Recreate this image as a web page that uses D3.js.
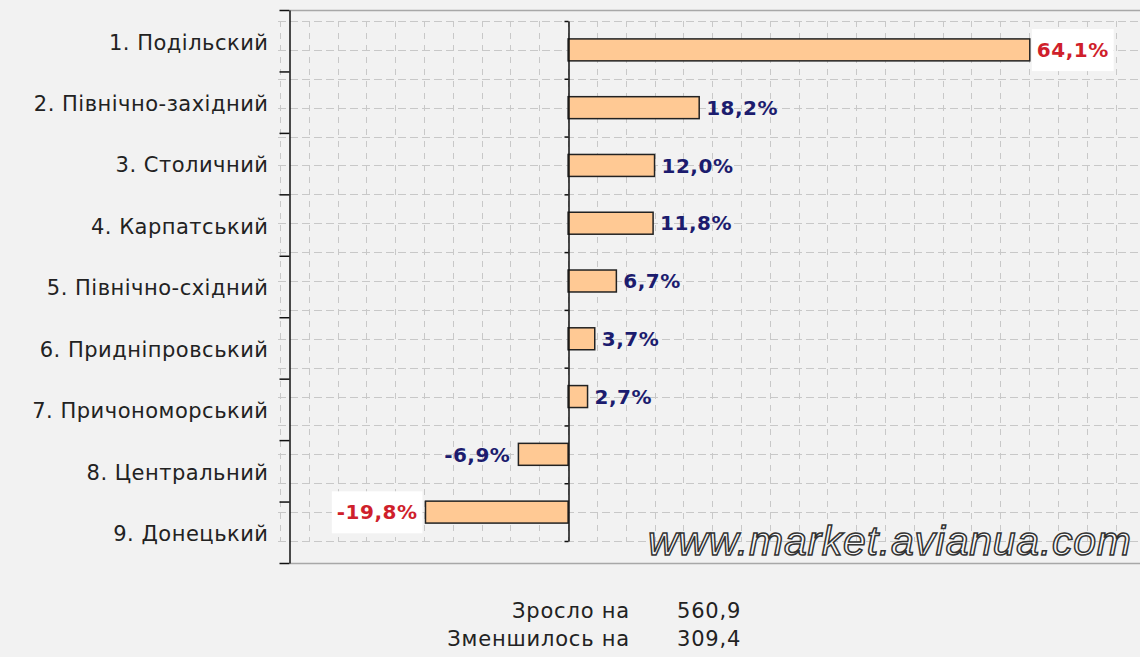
<!DOCTYPE html>
<html>
<head>
<meta charset="utf-8">
<script src="https://cdn.jsdelivr.net/npm/d3@7"></script>
<style>
  body { margin: 0; background: #f2f2f2; }
  svg { display: block; }
</style>
</head>
<body>
<script>
var width = 1140;
var height = 657;

var categories = ["1. Подільский", "2. Північно-західний", "3. Столичний", "4. Карпатський",
  "5. Північно-східний", "6. Придніпровський", "7. Причономорський", "8. Центральний", "9. Донецький"];
var values = [64.1, 18.2, 12.0, 11.8, 6.7, 3.7, 2.7, -6.9, -19.8];
var gridSteps = d3.range(-40, 80, 4);
var summaryLabels = ["Зросло на", "Зменшилось на"];
var summaryValues = [560.9, 309.4];
var watermark = "www.market.avianua.com";

var fmt = function(v) { return v.toFixed(1).replace(".", ",") + "%"; };
var vmax = d3.max(values), vmin = d3.min(values);

var svg = d3.select("body").append("svg")
  .attr("width", width)
  .attr("height", height);

// scales
var x = d3.scaleLinear().domain([-40, 79.4]).range([280, 1140]);
var yOuter = d3.scaleBand().domain(categories).range([10, 563]);
var yInner = d3.scaleBand().domain(categories).range([21, 541]).paddingInner(0.62).paddingOuter(0.31);
var yGrid = d3.scaleLinear().domain([0, 18]).range([21, 541]);
var yBound = d3.scaleLinear().domain([0, 9]).range([21, 541]);
var yOuterBound = d3.scaleLinear().domain([0, 9]).range([10, 563]);

// frame lines top / bottom
svg.selectAll(".frame")
  .data([10, 563])
  .enter().append("line")
  .attr("x1", 290).attr("x2", width)
  .attr("y1", function(d) { return d + 0.5; })
  .attr("y2", function(d) { return d + 0.5; })
  .attr("stroke", "#a8a8a8")
  .attr("stroke-width", 1.5);

// grid
var grid = svg.append("g").attr("class", "grid");
grid.selectAll(".h")
  .data(d3.range(0, 19))
  .enter().append("line")
  .attr("x1", 278).attr("x2", width)
  .attr("y1", function(d) { return Math.round(yGrid(d)) + 0.5; })
  .attr("y2", function(d) { return Math.round(yGrid(d)) + 0.5; })
  .attr("stroke", "#c8c8c8")
  .attr("stroke-dasharray", "8,4");
grid.selectAll(".v")
  .data(gridSteps)
  .enter().append("line")
  .attr("x1", function(d) { return Math.round(x(d)) + 0.5; })
  .attr("x2", function(d) { return Math.round(x(d)) + 0.5; })
  .attr("y1", 21).attr("y2", 541)
  .attr("stroke", "#c8c8c8")
  .attr("stroke-dasharray", "6,6");

// bars
svg.selectAll(".bar")
  .data(values)
  .enter().append("rect")
  .attr("class", "bar")
  .attr("x", function(d) { return x(Math.min(0, d)); })
  .attr("y", function(d, i) { return yInner(categories[i]); })
  .attr("width", function(d) { return Math.abs(x(d) - x(0)); })
  .attr("height", yInner.bandwidth())
  .attr("fill", "#ffc994")
  .attr("stroke", "#222")
  .attr("stroke-width", 1.5);

// zero line with small ticks
svg.append("g")
  .attr("transform", "translate(" + (Math.round(x(0)) + 0.5) + ",0)")
  .call(d3.axisLeft(yBound).tickValues(d3.range(0, 10)).tickSize(4).tickSizeOuter(0).tickFormat(""))
  .call(function(g) { g.selectAll("path, line").attr("stroke", "#111").attr("stroke-width", 1.5); });

// left axis: boundary ticks
svg.append("g")
  .attr("transform", "translate(289.5,0)")
  .call(d3.axisLeft(yOuterBound).tickValues(d3.range(0, 10)).tickSize(10).tickSizeOuter(0).tickFormat(""))
  .call(function(g) { g.selectAll("path, line").attr("stroke", "#111").attr("stroke-width", 1.5); });

// left axis: category labels
svg.append("g")
  .attr("transform", "translate(289.5,0)")
  .call(d3.axisLeft(yOuter).tickSize(0).tickPadding(21))
  .call(function(g) {
    g.select(".domain").remove();
    g.selectAll("text")
      .attr("font-family", "DejaVu Sans, Arial, sans-serif")
      .attr("font-size", 21)
      .attr("letter-spacing", 0.5)
      .attr("dy", "0.42em")
      .attr("fill", "#222");
  });

// value labels
var lab = svg.selectAll(".val")
  .data(values)
  .enter().append("g")
  .attr("class", "val");

var isHi = function(d) { return d === vmax || d === vmin; };

lab.append("text")
  .attr("x", function(d) { return d >= 0 ? x(d) + 7 : x(d) - 8; })
  .attr("y", function(d, i) { return yInner(categories[i]) + yInner.bandwidth() / 2; })
  .attr("dy", "0.36em")
  .attr("text-anchor", function(d) { return d >= 0 ? "start" : "end"; })
  .attr("font-family", "DejaVu Sans, Arial, sans-serif")
  .attr("font-weight", "bold")
  .attr("font-size", 20)
  .attr("letter-spacing", 0.5)
  .attr("fill", function(d) { return isHi(d) ? "#cf1f2c" : "#1c1c6e"; })
  .text(fmt)
  .each(function(d) {
    if (!isHi(d)) return;
    var b = this.getBBox();
    d3.select(this.parentNode).insert("rect", "text")
      .attr("x", b.x - 5).attr("y", b.y - 9)
      .attr("width", b.width + 10).attr("height", b.height + 18)
      .attr("fill", "#fff");
  });

// watermark
svg.append("text")
  .attr("x", 1131)
  .attr("y", 555)
  .attr("text-anchor", "end")
  .attr("font-family", "Arial, Liberation Sans, sans-serif")
  .attr("font-style", "italic")
  .attr("font-size", 41)
  .attr("textLength", 483)
  .attr("fill", "#f8f8f8")
  .attr("stroke", "#333")
  .attr("stroke-width", 1.5)
  .text(watermark);

// summary
var sum = svg.selectAll(".sum")
  .data(summaryValues)
  .enter().append("g")
  .attr("class", "sum")
  .attr("transform", function(d, i) { return "translate(0," + (618 + i * 28) + ")"; });
sum.append("text")
  .attr("x", 630)
  .attr("text-anchor", "end")
  .attr("font-family", "DejaVu Sans, Arial, sans-serif")
  .attr("font-size", 21)
  .attr("letter-spacing", 0.8)
  .attr("fill", "#222")
  .text(function(d, i) { return summaryLabels[i]; });
sum.append("text")
  .attr("x", 677)
  .attr("font-family", "DejaVu Sans, Arial, sans-serif")
  .attr("font-size", 21)
  .attr("letter-spacing", 0.8)
  .attr("fill", "#222")
  .text(function(d) { return d.toFixed(1).replace(".", ","); });
</script>
</body>
</html>
